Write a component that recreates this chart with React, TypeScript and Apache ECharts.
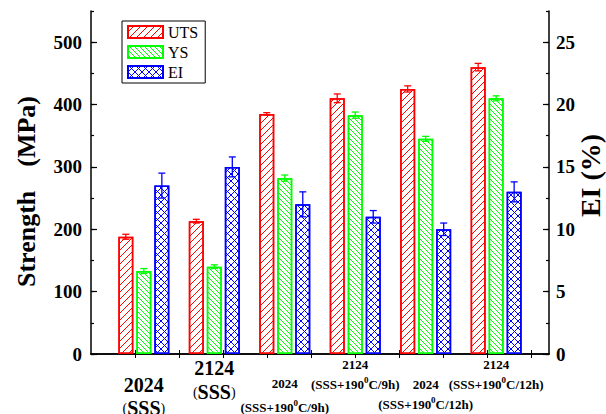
import React, { useEffect, useRef } from "react";
import * as echarts from "echarts";

// ---------- data ----------
const groupPositions = [1, 2, 3, 4, 5, 6];
const lowerLabelGroups = [1, 3, 5];
const upperLabelGroups = [2, 4, 6];
const alloys = ["2024", "2124", "2024", "2124", "2024", "2124"];
const conditions = ["SSS", "SSS", "SSS+190^0C/9h", "SSS+190^0C/9h", "SSS+190^0C/12h", "SSS+190^0C/12h"];
const seriesNames = ["UTS", "YS", "EI"];
const utsValues = [188, 213, 385, 410, 425, 460];
const utsErrors = [4, 3, 2, 7, 5, 6];
const ysValues = [133, 140, 282, 383, 345, 410];
const ysErrors = [4, 3, 5, 5, 4, 4];
const eiValues = [13.5, 15, 12, 11, 10, 13];
const eiErrors = [1, 0.8, 1, 0.5, 0.5, 0.8];
const strengthAxis = [0, 550, 100, 50]; // min, max, major, minor
const eiAxis = [0, 27.5, 5, 2.5];
const xRange = [0.25, 6.75];
const frameTickValues = [0.875, 1.5, 2.125, 2.75, 3.375, 4, 4.625, 5.25, 5.875, 6.5];

// ---------- styles ----------
const FONT = "Liberation Serif";
const RED = "#ff0000";
const GREEN = "#00ff00";
const BLUE = "#0000ff";

const labelLayout = [
  { gap: 17.5, h1: 23, h2: 23, big: true },
  { gap: 0, h1: 24, h2: 24, big: true },
  { gap: 15, h1: 24, h2: 24, big: false },
  { gap: 0, h1: 16, h2: 24, big: false },
  { gap: 18, h1: 20, h2: 20, big: false },
  { gap: 0, h1: 16, h2: 24, big: false },
];

function buildRich() {
  const rich: any = {};
  labelLayout.forEach((L, i) => {
    const size = L.big ? 20 : 13;
    rich[`g${i}`] = { height: L.gap, width: 1, lineHeight: L.gap };
    rich[`a${i}`] = { fontFamily: FONT, fontWeight: "bold", fontSize: size, lineHeight: L.h1, color: "#000" };
    rich[`b${i}`] = { fontFamily: FONT, fontWeight: "bold", fontSize: size, lineHeight: L.h2, color: "#000" };
    rich[`p${i}`] = { fontFamily: FONT, fontWeight: "normal", fontSize: 14, lineHeight: L.h2, color: "#000" };
    rich[`s${i}`] = { fontFamily: FONT, fontWeight: "bold", fontSize: 9, lineHeight: 9, padding: [0, 0, 9, 0], color: "#000" };
  });
  return rich;
}

function formatLabel(value: number) {
  const i = groupPositions.indexOf(value);
  if (i < 0) return "";
  const L = labelLayout[i];
  const lines: string[] = [];
  if (L.gap > 0) lines.push(`{g${i}|}`);
  lines.push(`{a${i}|${alloys[i]}}`);
  const cond = conditions[i];
  if (L.big) {
    lines.push(`{p${i}|(}{b${i}|${cond}}{p${i}|)}`);
  } else {
    const parts = cond.split("^0");
    if (parts.length === 2) lines.push(`{b${i}|(${parts[0]}}{s${i}|0}{b${i}|${parts[1]})}`);
    else lines.push(`{b${i}|(${cond})}`);
  }
  return lines.join("\n");
}

// Hatch patterns built row by row (1px rows), no rotation needed.
function hatchRows(period: number, dir: "/" | "\\" | "x") {
  const rows: number[][] = [];
  for (let k = 0; k < period; k++) {
    const a = k;
    const b = period - 1 - k;
    let dots: number[];
    if (dir === "\\") dots = [a];
    else if (dir === "/") dots = [b];
    else dots = a === b ? [a] : [Math.min(a, b), Math.max(a, b)];
    const row: number[] = [0];
    let pos = 0;
    dots.forEach((d) => {
      row.push(d - pos, 1);
      pos = d + 1;
    });
    row.push(period - pos);
    rows.push(row);
  }
  return rows;
}
function makeDecal(period: number, dir: "/" | "\\" | "x", color: string) {
  return {
    symbol: "rect",
    symbolSize: 1,
    symbolKeepAspect: false,
    dashArrayX: hatchRows(period, dir),
    dashArrayY: [1, 0],
    rotation: 0,
    color,
  };
}

const hatchUTS = makeDecal(7, "/", RED);
const hatchYS = makeDecal(5, "\\", GREEN);
const hatchEI = makeDecal(7, "x", BLUE);

function barSeries(name: string, values: number[], yAxisIndex: number, color: string, decal: any) {
  return {
    type: "bar",
    name,
    xAxisIndex: 0,
    yAxisIndex,
    barWidth: 15,
    barGap: "20%",
    data: values.map((v, i) => [groupPositions[i], v]),
    itemStyle: { color: "#ffffff", borderColor: color, borderWidth: 1.5, decal },
    emphasis: { disabled: true },
    z: 2,
  };
}

function errorSeries(name: string, values: number[], errors: number[], yAxisIndex: number, offset: number, color: string) {
  return {
    type: "custom",
    name,
    xAxisIndex: 0,
    yAxisIndex,
    silent: true,
    z: 4,
    data: values.map((v, i) => [groupPositions[i], v, errors[i]]),
    renderItem: (_params: any, api: any) => {
      const x = api.value(0);
      const y = api.value(1);
      const e = api.value(2);
      const top = api.coord([x, y + e]);
      const bot = api.coord([x, y - e]);
      const cx = top[0] + offset;
      const hw = 3.5;
      const st = { stroke: color, lineWidth: 1.3 };
      return {
        type: "group",
        children: [
          { type: "line", shape: { x1: cx, y1: top[1], x2: cx, y2: bot[1] }, style: st },
          { type: "line", shape: { x1: cx - hw, y1: top[1], x2: cx + hw, y2: top[1] }, style: st },
          { type: "line", shape: { x1: cx - hw, y1: bot[1], x2: cx + hw, y2: bot[1] }, style: st },
        ],
      };
    },
  };
}

const axisLineStyle = { show: true, lineStyle: { color: "#000", width: 1.5 } };
const tickLabelStyle = { color: "#000", fontFamily: FONT, fontWeight: "bold" as const, fontSize: 19 };

function labelAxis(values: number[], showLine: boolean) {
  return {
    type: "value",
    position: "bottom",
    min: xRange[0],
    max: xRange[1],
    axisLine: showLine ? axisLineStyle : { show: false },
    axisTick: showLine
      ? { show: true, inside: true, length: 4, customValues: frameTickValues, lineStyle: { color: "#000" } }
      : { show: false },
    axisLabel: {
      show: true,
      customValues: values,
      formatter: formatLabel,
      rich: buildRich(),
      margin: 2,
      showMinLabel: true,
      showMaxLabel: true,
      hideOverlap: false,
    },
    splitLine: { show: false },
  };
}

export default function App() {
  const ref = useRef<HTMLDivElement>(null);
  useEffect(() => {
    if (!ref.current) return;
    const chart = echarts.init(ref.current, null, { renderer: "svg" });
    chart.setOption({
      animation: false,
      backgroundColor: "#ffffff",
      grid: { left: 91, right: 57, top: 11, bottom: 60, containLabel: false, outerBoundsMode: "none" },
      legend: {
        data: seriesNames,
        orient: "vertical",
        left: 122,
        top: 21,
        icon: "rect",
        itemWidth: 35,
        itemHeight: 12,
        itemGap: 4,
        padding: [3, 7, 3, 5],
        borderColor: "#000",
        borderWidth: 1,
        selectedMode: false,
        textStyle: { color: "#000", fontFamily: FONT, fontSize: 16 },
      },
      xAxis: [
        labelAxis(lowerLabelGroups, true),
        {
          type: "value",
          position: "top",
          min: xRange[0],
          max: xRange[1],
          axisLine: axisLineStyle,
          axisTick: { show: true, inside: true, length: 4, customValues: frameTickValues, lineStyle: { color: "#000" } },
          axisLabel: { show: false },
          splitLine: { show: false },
        },
        labelAxis(upperLabelGroups, false),
      ],
      yAxis: [
        {
          type: "value",
          position: "left",
          min: strengthAxis[0],
          max: strengthAxis[1],
          interval: strengthAxis[2],
          axisLine: axisLineStyle,
          axisTick: { show: true, inside: true, length: 6, lineStyle: { color: "#000", width: 1.2 } },
          axisLabel: { ...tickLabelStyle, margin: 9, showMaxLabel: false },
          splitLine: { show: false },
          name: "{a|Strength}{g|}{a|(MPa)}",
          nameLocation: "middle",
          nameRotate: 90,
          nameGap: 52,
          nameMoveOverlap: false,
          nameTextStyle: {
            color: "#000",
            padding: [0, 18, 0, 0],
            rich: {
              a: { fontFamily: FONT, fontWeight: "bold", fontSize: 26, color: "#000" },
              g: { width: 24 },
            },
          },
        },
        {
          type: "value",
          position: "right",
          min: eiAxis[0],
          max: eiAxis[1],
          interval: eiAxis[2],
          axisLine: axisLineStyle,
          axisTick: { show: true, inside: true, length: 6, lineStyle: { color: "#000", width: 1.2 } },
          axisLabel: { ...tickLabelStyle, margin: 7, showMaxLabel: false },
          splitLine: { show: false },
          name: "{g|}{a|EI (%)}",
          nameLocation: "middle",
          nameRotate: 90,
          nameGap: 27,
          nameMoveOverlap: false,
          nameTextStyle: {
            color: "#000",
            rich: {
              a: { fontFamily: FONT, fontWeight: "bold", fontSize: 28, color: "#000" },
              g: { width: 14 },
            },
          },
        },
        {
          type: "value",
          position: "left",
          min: strengthAxis[0],
          max: strengthAxis[1],
          interval: strengthAxis[3],
          axisLine: { show: false },
          axisTick: { show: true, inside: true, length: 3, lineStyle: { color: "#000", width: 1.2 } },
          axisLabel: { show: false },
          splitLine: { show: false },
        },
        {
          type: "value",
          position: "right",
          min: eiAxis[0],
          max: eiAxis[1],
          interval: eiAxis[3],
          axisLine: { show: false },
          axisTick: { show: true, inside: true, length: 3, lineStyle: { color: "#000", width: 1.2 } },
          axisLabel: { show: false },
          splitLine: { show: false },
        },
      ],
      series: [
        barSeries("UTS", utsValues, 0, RED, hatchUTS),
        barSeries("YS", ysValues, 0, GREEN, hatchYS),
        barSeries("EI", eiValues, 1, BLUE, hatchEI),
        errorSeries("UTS error", utsValues, utsErrors, 0, -18, RED),
        errorSeries("YS error", ysValues, ysErrors, 0, 0, GREEN),
        errorSeries("EI error", eiValues, eiErrors, 1, 18, BLUE),
      ],
    });
    return () => chart.dispose();
  }, []);
  return (
    <div
      ref={ref}
      style={{ position: "fixed", left: 0, top: 0, width: 606, height: 414, background: "#fff" }}
    />
  );
}
